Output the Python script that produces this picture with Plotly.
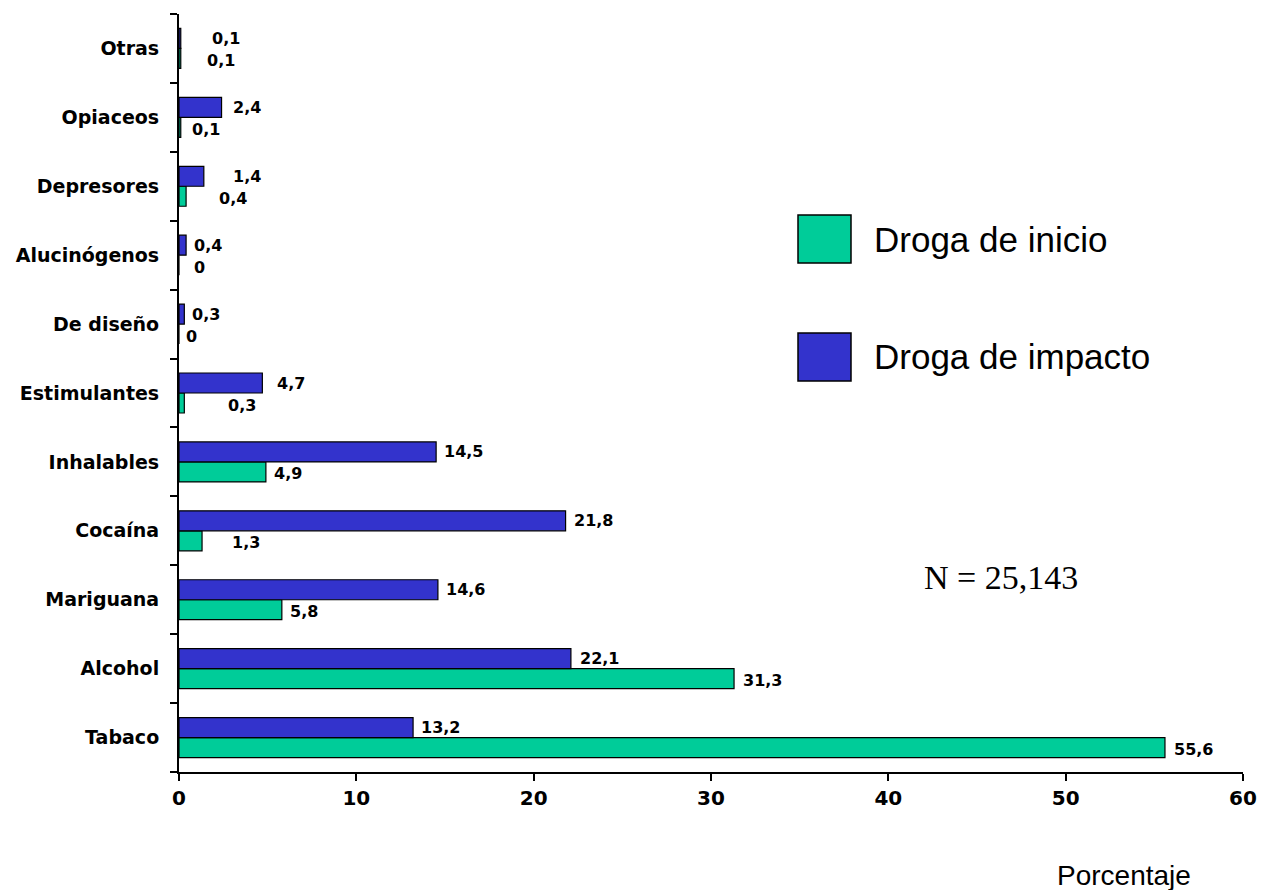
import plotly.graph_objects as go

categories = ["Tabaco", "Alcohol", "Mariguana", "Cocaína", "Inhalables", "Estimulantes",
              "De diseño", "Alucinógenos", "Depresores", "Opiaceos", "Otras"]
droga_inicio = [55.6, 31.3, 5.8, 1.3, 4.9, 0.3, 0, 0, 0.4, 0.1, 0.1]
droga_impacto = [13.2, 22.1, 14.6, 21.8, 14.5, 4.7, 0.3, 0.4, 1.4, 2.4, 0.1]
x_ticks = [0, 10, 20, 30, 40, 50, 60]

# label offsets in pixels (style only)
shift_inicio = [7, 7, 6, 28, 6, 42, 5, 13, 31, 9, 24]
shift_impacto = [6, 7, 6, 6, 6, 13, 6, 6, 27, 9, 29]

GREEN = "#00CC99"
BLUE = "#3333CC"


def fmt(v):
    if v == 0:
        return "0"
    return f"{v:.1f}".replace(".", ",")


fig = go.Figure()
fig.add_trace(go.Bar(y=categories, x=droga_inicio, orientation="h", name="Droga de inicio",
                     marker=dict(color=GREEN, line=dict(color="black", width=1.2))))
fig.add_trace(go.Bar(y=categories, x=droga_impacto, orientation="h", name="Droga de impacto",
                     marker=dict(color=BLUE, line=dict(color="black", width=1.2))))

annotations = []
lab_font = dict(family="DejaVu Sans", size=16, color="black")
for c, v, s in zip(categories, droga_inicio, shift_inicio):
    annotations.append(dict(x=v, y=c, xref="x", yref="y", text="<b>%s</b>" % fmt(v),
                            showarrow=False, xanchor="left", yanchor="middle",
                            xshift=s, yshift=-12, font=lab_font))
for c, v, s in zip(categories, droga_impacto, shift_impacto):
    annotations.append(dict(x=v, y=c, xref="x", yref="y", text="<b>%s</b>" % fmt(v),
                            showarrow=False, xanchor="left", yanchor="middle",
                            xshift=s, yshift=10, font=lab_font))

# plot area in pixels: x 179..1243, y 14..772
def px_x(p):
    return (p - 179) / 1064.0


def px_y(p):
    return (772 - p) / 758.0


shapes = [
    dict(type="rect", xref="paper", yref="paper", x0=px_x(798), x1=px_x(851),
         y0=px_y(263), y1=px_y(215), fillcolor=GREEN, line=dict(color="black", width=1.5)),
    dict(type="rect", xref="paper", yref="paper", x0=px_x(798), x1=px_x(851),
         y0=px_y(381), y1=px_y(333), fillcolor=BLUE, line=dict(color="black", width=1.5)),
]
legend_font = dict(family="Liberation Sans", size=35, color="black")
annotations += [
    dict(x=px_x(872), y=px_y(239), xref="paper", yref="paper", text="Droga de inicio",
         showarrow=False, xanchor="left", yanchor="middle", font=legend_font),
    dict(x=px_x(872), y=px_y(356), xref="paper", yref="paper", text="Droga de impacto",
         showarrow=False, xanchor="left", yanchor="middle", font=legend_font),
    dict(x=px_x(1001), y=px_y(577), xref="paper", yref="paper", text="N = 25,143",
         showarrow=False, xanchor="center", yanchor="middle",
         font=dict(family="Liberation Serif", size=34, color="black")),
    dict(x=px_x(1124), y=px_y(875), xref="paper", yref="paper", text="Porcentaje",
         showarrow=False, xanchor="center", yanchor="middle",
         font=dict(family="Liberation Sans", size=28, color="black")),
]

fig.update_layout(
    width=1261, height=890,
    margin=dict(l=179, r=18, t=14, b=118, autoexpand=False),
    paper_bgcolor="white", plot_bgcolor="white",
    barmode="group", bargap=0.42, bargroupgap=0,
    showlegend=False,
    shapes=shapes, annotations=annotations,
    xaxis=dict(range=[0, 60], tickvals=x_ticks, ticktext=["<b>%d</b>" % t for t in x_ticks],
               showgrid=False, zeroline=False, showline=True, linecolor="black", linewidth=2,
               ticks="outside", ticklen=7, tickwidth=2, tickcolor="black", automargin=False,
               tickfont=dict(family="DejaVu Sans", size=20, color="black"), fixedrange=True),
    yaxis=dict(categoryorder="array", categoryarray=categories,
               ticktext=["<b>%s</b>" % c for c in categories], tickvals=categories,
               showgrid=False, zeroline=False, showline=True, linecolor="black", linewidth=2,
               ticks="outside", ticklen=7, tickwidth=2, tickcolor="black", tickson="boundaries",
               automargin=False,
               tickfont=dict(family="DejaVu Sans", size=19, color="black"), ticklabelstandoff=14),
)

fig.write_html("out.html", config={"displayModeBar": False},
               post_script="document.body.style.margin='0';document.body.style.overflow='hidden';")
